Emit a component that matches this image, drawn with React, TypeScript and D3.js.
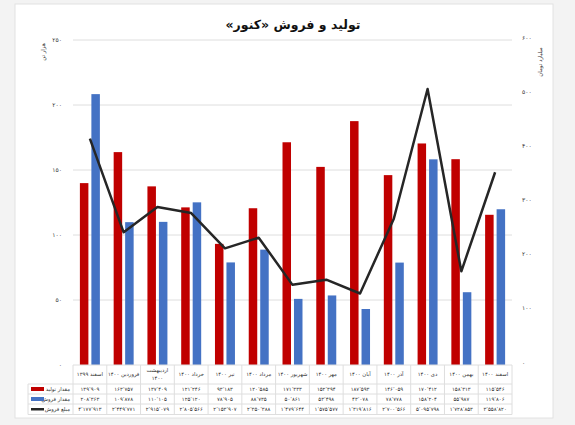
import * as d3 from 'd3';

// categories (months) and series
const months = [
  'اسفند ۱۳۹۹', 'فروردین ۱۴۰۰', 'اردیبهشت ۱۴۰۰', 'خرداد ۱۴۰۰', 'تیر ۱۴۰۰', 'مرداد ۱۴۰۰',
  'شهریور ۱۴۰۰', 'مهر ۱۴۰۰', 'آبان ۱۴۰۰', 'آذر ۱۴۰۰', 'دی ۱۴۰۰', 'بهمن ۱۴۰۰', 'اسفند ۱۴۰۰',
];
// tons
const production = [139909, 163757, 137409, 121246, 93183, 120585, 171333, 152394, 187593, 146059, 170412, 158313, 115546];
const sales = [208363, 109878, 110105, 125120, 78905, 88735, 50861, 53498, 43078, 78778, 158204, 55987, 119806];
// sales amount (as printed in the table)
const revenue = [4177913, 2449771, 2915079, 2805566, 2153907, 2350388, 1479644, 1575577, 1319816, 2700566, 5095798, 1728853, 3558820];

const seriesNames = ['مقدار تولید', 'مقدار فروش', 'مبلغ فروش'];
const leftTicks = [0, 50, 100, 150, 200, 250];
const rightTicks = [0, 100, 200, 300, 400, 500, 600];

const title = 'تولید و فروش «کنور»';
const leftTitle = 'هزار تن';
const rightTitle = 'میلیارد تومان';

const RED = '#c00000';
const BLUE = '#4472c4';
const LINE = '#262626';
const GRID = '#dedede';
const FONT = '"DejaVu Sans", sans-serif';

const faDigits = '۰۱۲۳۴۵۶۷۸۹';
const toFa = (s: string) => s.replace(/\d/g, d => faDigits[+d]).replace(/,/g, '٬');
const fmt = d3.format(',');

export default function App() {
  const W = 575, H = 425;
  const plot = { left: 73, right: 512, top: 40, bottom: 365 };

  const x0 = d3.scaleBand<string>().domain(months).range([plot.left, plot.right]);
  const bw = x0.bandwidth();
  const x1 = d3.scaleBand<string>().domain(['p', 's']).range([0, bw]).paddingInner(0.26).paddingOuter(0.6);
  const yL = d3.scaleLinear().domain([0, 250]).range([plot.bottom, plot.top]);
  const yR = d3.scaleLinear().domain([0, 600]).range([plot.bottom, plot.top]);

  const line = d3.line<number>()
    .x((_, i) => x0(months[i])! + bw / 2)
    .y(d => yR(d / 10000));

  // table rows
  const tTop = plot.bottom;
  const rowY = [384, 394, 404, 414.5];
  const tLeft = 28;
  const rows = [production, sales, revenue];

  return (
    <div style={{ position: 'absolute', left: 0, top: 0 }}>
      <svg width={W} height={H} style={{ display: 'block', fontFamily: FONT }}>
        <rect x={0} y={0} width={W} height={H} fill="#f3f3f3" />
        <rect x={15} y={4} width={538} height={414} fill="#fff" stroke="#e2e2e2" />

        <text x={293} y={29} textAnchor="middle" direction="rtl" fontSize={12.5} fontWeight="bold" fill="#111">{title}</text>

        {/* grid */}
        {leftTicks.filter(t => t > 0).map(t => (
          <line key={t} x1={plot.left} x2={plot.right} y1={yL(t)} y2={yL(t)} stroke={GRID} strokeWidth={1} />
        ))}

        {/* axis labels */}
        {leftTicks.map(t => (
          <text key={t} x={62} y={yL(t) + 2} textAnchor="end" fontSize={6} fill="#333">{toFa(String(t))}</text>
        ))}
        {rightTicks.map(t => (
          <text key={t} x={522} y={yR(t) - 0.5} textAnchor="start" fontSize={6} fill="#333">{toFa(String(t))}</text>
        ))}
        <text transform="translate(45,52) rotate(-90)" textAnchor="middle" direction="rtl" fontSize={5.5} fill="#333">{leftTitle}</text>
        <text transform="translate(542,62) rotate(-90)" textAnchor="middle" direction="rtl" fontSize={5.5} fill="#333">{rightTitle}</text>

        {/* bars */}
        {months.map((m, i) => (
          <g key={m} transform={`translate(${x0(m)},0)`}>
            <rect x={x1('p')} width={x1.bandwidth()} y={yL(production[i] / 1000)}
              height={plot.bottom - yL(production[i] / 1000)} fill={RED} />
            <rect x={x1('s')} width={x1.bandwidth()} y={yL(sales[i] / 1000)}
              height={plot.bottom - yL(sales[i] / 1000)} fill={BLUE} />
          </g>
        ))}

        <path d={line(revenue)!} fill="none" stroke={LINE} strokeWidth={2.5} strokeLinejoin="round" />

        {/* data table */}
        <line x1={plot.left} x2={plot.right} y1={tTop} y2={tTop} stroke={GRID} />
        {rowY.map(y => (
          <line key={y} x1={tLeft} x2={plot.right} y1={y} y2={y} stroke={GRID} />
        ))}
        <line x1={tLeft} x2={tLeft} y1={rowY[0]} y2={rowY[3]} stroke={GRID} />
        {months.map(m => (
          <line key={m} x1={x0(m)} x2={x0(m)} y1={tTop} y2={rowY[3]} stroke={GRID} />
        ))}
        <line x1={plot.right} x2={plot.right} y1={tTop} y2={rowY[3]} stroke={GRID} />

        {months.map(m => {
          const cx = x0(m)! + bw / 2;
          const parts = m.split(' ');
          if (m.length > 12) {
            return (
              <text key={m} x={cx} textAnchor="middle" fontSize={5.3} fill="#333">
                <tspan x={cx} y={372}>{parts[0]}</tspan>
                <tspan x={cx} y={380}>{parts[1]}</tspan>
              </text>
            );
          }
          return <text key={m} x={cx} y={376} textAnchor="middle" fontSize={5.3} fill="#333">{m}</text>;
        })}

        {rows.map((vals, r) => (
          <g key={r}>
            {vals.map((v, i) => (
              <text key={i} x={x0(months[i])! + bw / 2} y={rowY[r] + (rowY[r + 1] - rowY[r]) / 2 + 2}
                textAnchor="middle" fontSize={5.3} fill="#333">{toFa(fmt(v))}</text>
            ))}
            <text x={70} y={rowY[r] + (rowY[r + 1] - rowY[r]) / 2 + 2} textAnchor="end" fontSize={5.3} fill="#333">{seriesNames[r]}</text>
          </g>
        ))}
        {/* legend keys */}
        <rect x={31} y={(rowY[0] + rowY[1]) / 2 - 2} width={13} height={4} fill={RED} />
        <rect x={31} y={(rowY[1] + rowY[2]) / 2 - 2} width={13} height={4} fill={BLUE} />
        <line x1={31} x2={44} y1={(rowY[2] + rowY[3]) / 2} y2={(rowY[2] + rowY[3]) / 2} stroke={LINE} strokeWidth={2.5} />
      </svg>
    </div>
  );
}
